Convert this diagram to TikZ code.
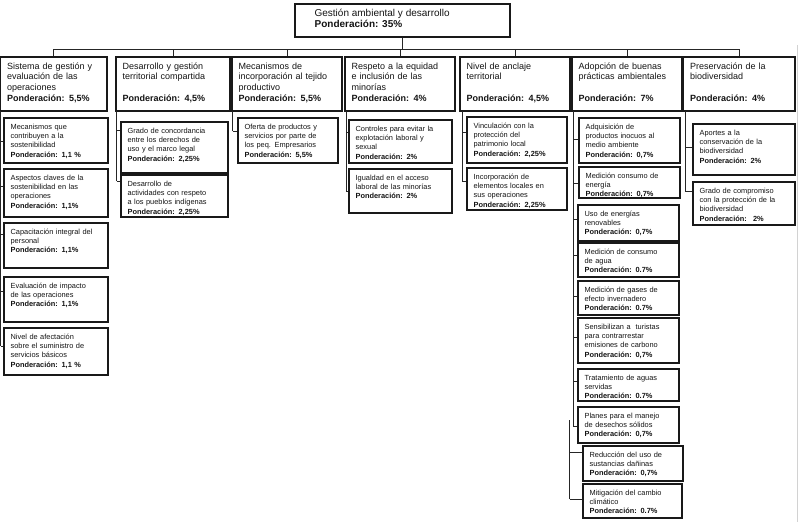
\documentclass[tikz,border=0pt]{standalone}
\usepackage{fontspec}
\setmainfont{Liberation Sans}
\usetikzlibrary{fit,calc}
\newcommand\fszA{\fontsize{7.4}{9.3}\selectfont}
\newcommand\fszB{\fontsize{9}{10.7}\selectfont}
\newcommand\fszC{\fontsize{10}{11}\selectfont}
\tikzset{
 boxst/.style={draw=black!90, line width=1.15pt, inner sep=0pt, fill=white},
 txtst/.style={anchor=north west, inner sep=0pt, align=left, text=black!92},
 conn/.style={draw=black!85, line width=0.9pt},
}
\newcommand\mybox[7]{%
 \node[boxst, fit={(#2,#3) (#4,#5)}] (#1) {};
 \pgfmathsetmacro\tw{#4-#2-8}%
 \node[txtst, text width=\tw pt, font=#6] (#1-t) at ($(#1.north west)+(7,5)$) {\strut #7};
}
\newcommand\mystub[3]{%
 \coordinate (#2-s) at ($(#2.north west)+(0,#3)$);
 \draw[conn] (#1 |- #2-s) -- (#2-s);
}
\begin{document}
\begin{tikzpicture}[x=1pt,y=-1pt]
\useasboundingbox (0,0) rectangle (800,522);
\fill[white] (0,0) rectangle (800,522);
\draw[gray!35, line width=0.8pt] (797,45) -- (797,522);

% top
\node[boxst, fit={(295,4) (510,37)}] (top) {};
\node[txtst, font=\fszC] (top-t) at ($(top.north west)+(20,5.5)$) {\strut Gestión ambiental y desarrollo\\\textbf{Ponderación: 35\%}};

% level 1
\mybox{L1}{0.6}{57}{107}{111}{\fszB}{Sistema de gestión y\\evaluación de las\\operaciones\\\textbf{Ponderación: 5,5\%}}
\mybox{L2}{116}{57}{230}{111}{\fszB}{Desarrollo y gestión\\territorial compartida\\\mbox{}\\\textbf{Ponderación: 4,5\%}}
\mybox{L3}{232}{57}{342}{111}{\fszB}{Mecanismos de\\incorporación al tejido\\productivo\\\textbf{Ponderación: 5,5\%}}
\mybox{L4}{345}{57}{455}{111}{\fszB}{Respeto a la equidad\\e inclusión de las\\minorías\\\textbf{Ponderación: 4\%}}
\mybox{L5}{460}{57}{570}{111}{\fszB}{Nivel de anclaje\\territorial\\\mbox{}\\\textbf{Ponderación: 4,5\%}}
\mybox{L6}{572}{57}{682}{111}{\fszB}{Adopción de buenas\\prácticas ambientales\\\mbox{}\\\textbf{Ponderación: 7\%}}
\mybox{L7}{683.5}{57}{795}{111}{\fszB}{Preservación de la\\biodiversidad\\\mbox{}\\\textbf{Ponderación: 4\%}}

% top connectors
\coordinate (bus) at (0,49);
\draw[conn] (top.south) -- (top.south |- bus);
\draw[conn] (bus -| L1.north) -- (bus -| L7.north);
\foreach \n in {L1,L2,L3,L4,L5,L6,L7} \draw[conn] (bus -| \n.north) -- (\n.north);

% column 1
\mybox{c1a}{4}{118}{108}{163}{\fszA}{Mecanismos que\\contribuyen a la\\sostenibilidad\\\textbf{Ponderación: 1,1 \%}}
\mybox{c1b}{4}{169}{108}{217}{\fszA}{Aspectos claves de la\\sostenibilidad en las\\operaciones\\\textbf{Ponderación: 1,1\%}}
\mybox{c1c}{4}{223}{108}{268}{\fszA}{Capacitación integral del\\personal\\\textbf{Ponderación: 1,1\%}}
\mybox{c1d}{4}{277}{108}{322}{\fszA}{Evaluación de impacto\\de las operaciones\\\textbf{Ponderación: 1,1\%}}
\mybox{c1e}{4}{328}{108}{375}{\fszA}{Nivel de afectación\\sobre el suministro de\\servicios básicos\\\textbf{Ponderación: 1,1 \%}}
\coordinate (t1) at (0.6,111);
\mystub{t1}{c1a}{24}
\mystub{t1}{c1b}{18}
\mystub{t1}{c1c}{12}
\mystub{t1}{c1d}{15}
\mystub{t1}{c1e}{19}
\draw[conn] (t1) -- (t1 |- c1e-s);

% column 2
\mybox{c2a}{121}{122}{228}{173}{\fszA}{Grado de concordancia\\entre los derechos de\\uso y el marco legal\\\textbf{Ponderación: 2,25\%}}
\mybox{c2b}{121}{175}{228}{217}{\fszA}{Desarrollo de\\actividades con respeto\\a los pueblos indígenas\\\textbf{Ponderación: 2,25\%}}
\coordinate (t2) at (116.5,111);
\mystub{t2}{c2a}{9}
\mystub{t2}{c2b}{7}
\draw[conn] (t2) -- (t2 |- c2b-s);

% column 3
\mybox{c3a}{238}{118}{338}{163}{\fszA}{Oferta de productos y\\servicios por parte de\\los peq. Empresarios\\\textbf{Ponderación: 5,5\%}}
\coordinate (t3) at (232.5,111);
\mystub{t3}{c3a}{14}
\draw[conn] (t3) -- (t3 |- c3a-s);

% column 4
\mybox{c4a}{349}{120}{452}{163}{\fszA}{Controles para evitar la\\explotación laboral y\\sexual\\\textbf{Ponderación: 2\%}}
\mybox{c4b}{349}{169}{452}{213}{\fszA}{Igualdad en el acceso\\laboral de las minorías\\\textbf{Ponderación: 2\%}}
\coordinate (t4) at (346,111);
\mystub{t4}{c4a}{13}
\mystub{t4}{c4b}{23}
\draw[conn] (t4) -- (t4 |- c4b-s);

% column 5
\mybox{c5a}{467}{117}{567}{163}{\fszA}{Vinculación con la\\protección del\\patrimonio local\\\textbf{Ponderación: 2,25\%}}
\mybox{c5b}{467}{168}{567}{210}{\fszA}{Incorporación de\\elementos locales en\\sus operaciones\\\textbf{Ponderación: 2,25\%}}
\coordinate (t5) at (462,111);
\mystub{t5}{c5a}{16}
\mystub{t5}{c5b}{14}
\draw[conn] (t5) -- (t5 |- c5b-s);

% column 6
\mybox{c6a}{579}{118}{680}{163}{\fszA}{Adquisición de\\productos inocuos al\\medio ambiente\\\textbf{Ponderación: 0,7\%}}
\mybox{c6b}{579}{167}{680}{198}{\fszA}{Medición consumo de\\energía\\\textbf{Ponderación: 0,7\%}}
\mybox{c6c}{578}{205}{679}{241}{\fszA}{Uso de energías\\renovables\\\textbf{Ponderación: 0,7\%}}
\mybox{c6d}{578}{243}{679}{277}{\fszA}{Medición de consumo\\de agua\\\textbf{Ponderación: 0.7\%}}
\mybox{c6e}{578}{281}{679}{315}{\fszA}{Medición de gases de\\efecto invernadero\\\textbf{Ponderación: 0.7\%}}
\mybox{c6f}{578}{318}{679}{363}{\fszA}{Sensibilizan a~ turistas\\para contrarrestar\\emisiones de carbono\\\textbf{Ponderación: 0,7\%}}
\mybox{c6g}{578}{369}{679}{401}{\fszA}{Tratamiento de aguas\\servidas\\\textbf{Ponderación: 0.7\%}}
\mybox{c6h}{578}{407}{679}{443}{\fszA}{Planes para el manejo\\de desechos sólidos\\\textbf{Ponderación: 0,7\%}}
\mybox{c6i}{583}{446}{683}{481}{\fszA}{Reducción del uso de\\sustancias dañinas\\\textbf{Ponderación: 0,7\%}}
\mybox{c6j}{583}{484}{682}{518}{\fszA}{Mitigación del cambio\\climático\\\textbf{Ponderación: 0.7\%}}
\coordinate (t6) at (573,111);
\coordinate (t6b) at (569.5,420);
\mystub{t6}{c6a}{22}
\mystub{t6}{c6b}{17}
\mystub{t6}{c6c}{15}
\mystub{t6}{c6d}{13}
\mystub{t6}{c6e}{16}
\mystub{t6}{c6f}{20}
\mystub{t6}{c6g}{13}
\mystub{t6}{c6h}{20}
\mystub{t6b}{c6i}{7}
\mystub{t6b}{c6j}{16}
\draw[conn] (t6) -- (t6 |- c6h-s);
\draw[conn] (t6b) -- (t6b |- c6j-s);

% column 7
\mybox{c7a}{693}{124}{795}{175}{\fszA}{Aportes a la\\conservación de la\\biodiversidad\\\textbf{Ponderación: 2\%}}
\mybox{c7b}{693}{182}{795}{225}{\fszA}{Grado de compromiso\\con la protección de la\\biodiversidad\\\textbf{Ponderación:~ 2\%}}
\coordinate (t7) at (685,111);
\mystub{t7}{c7a}{24}
\mystub{t7}{c7b}{10}
\draw[conn] (t7) -- (t7 |- c7b-s);
\end{tikzpicture}
\end{document}
